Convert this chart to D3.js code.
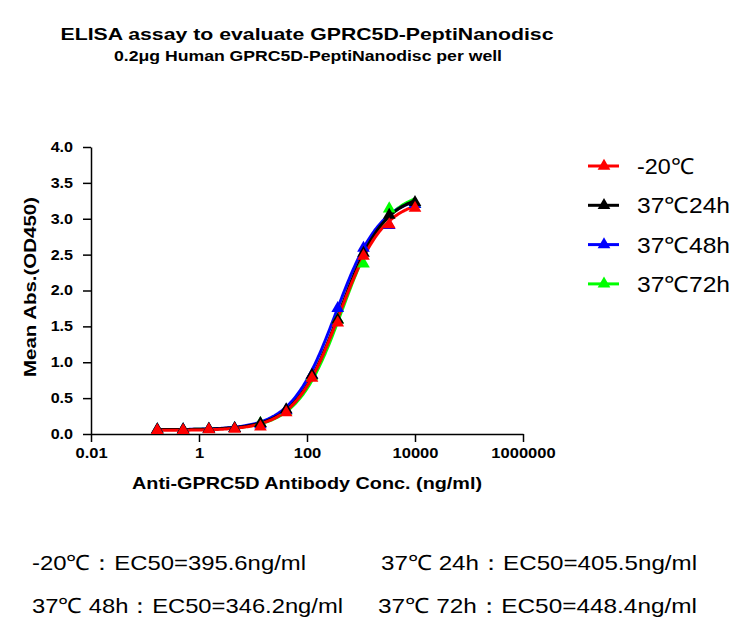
<!DOCTYPE html>
<html>
<head>
<meta charset="utf-8">
<script src="https://cdn.jsdelivr.net/npm/d3@7"></script>
<style>
  body { margin: 0; background: #fff; }
  text { font-family: "Liberation Sans", Arial, sans-serif; }
</style>
</head>
<body>
<svg id="chart" width="752" height="631"></svg>
<script>
// concentrations (ng/ml), 3-fold dilution from 10000
const conc = [0.169, 0.508, 1.524, 4.572, 13.72, 41.15, 123.5, 370.4, 1111, 3333, 10000];

const seriesNames = ['-20℃', '37℃24h', '37℃48h', '37℃72h'];
const seriesColors = ['#ff0000', '#000000', '#0000ff', '#00ff00'];

// mean OD450
const valsM20 = [0.05, 0.05, 0.06, 0.07, 0.10, 0.30, 0.78, 1.55, 2.48, 2.92, 3.15];
const vals24h = [0.06, 0.06, 0.07, 0.08, 0.15, 0.34, 0.82, 1.59, 2.52, 3.05, 3.23];
const vals48h = [0.06, 0.06, 0.07, 0.08, 0.13, 0.33, 0.82, 1.75, 2.59, 2.91, 3.20];
const vals72h = [0.06, 0.06, 0.07, 0.08, 0.15, 0.32, 0.80, 1.59, 2.37, 3.14, 3.20];

// 4PL fit parameters: bottom, top, EC50, hill
const fitBottom = [0.05, 0.06, 0.06, 0.06];
const fitTop = [3.28, 3.36, 3.33, 3.40];
const fitEC50 = [395.6, 405.5, 346.2, 448.4];
const fitHill = [1.05, 1.05, 1.05, 1.05];

const xTicks = [0.01, 1, 100, 10000, 1000000];
const yTicks = [0, 0.5, 1, 1.5, 2, 2.5, 3, 3.5, 4];

const ec50Labels = [
  '-20℃：EC50=395.6ng/ml',
  '37℃ 24h：EC50=405.5ng/ml',
  '37℃ 48h：EC50=346.2ng/ml',
  '37℃ 72h：EC50=448.4ng/ml'
];

const allVals = [valsM20, vals24h, vals48h, vals72h];

const svg = d3.select('#chart');

const x = d3.scaleLog().domain([0.01, 1000000]).range([91, 523]);
const y = d3.scaleLinear().domain([0, 4]).range([434, 147]);

// the reference text is a bit wider than plain Arial, stretch it
function fitWidth(sel, w) {
  sel.attr('lengthAdjust', 'spacingAndGlyphs').attr('textLength', w);
}
function stretch(sel, k) {
  sel.each(function() {
    this.setAttribute('lengthAdjust', 'spacingAndGlyphs');
    this.setAttribute('textLength', this.getComputedTextLength() * k);
  });
}

// titles
svg.append('text')
  .attr('x', 307).attr('y', 40)
  .attr('text-anchor', 'middle')
  .style('font-weight', 'bold').style('font-size', '17px')
  .text('ELISA assay to evaluate GPRC5D-PeptiNanodisc')
  .call(fitWidth, 493);

svg.append('text')
  .attr('x', 308).attr('y', 61)
  .attr('text-anchor', 'middle')
  .style('font-weight', 'bold').style('font-size', '14px')
  .text('0.2μg Human GPRC5D-PeptiNanodisc per well')
  .call(fitWidth, 388);

// axes
const xAxis = d3.axisBottom(x)
  .tickValues(xTicks)
  .tickSize(8)
  .tickSizeOuter(0)
  .tickFormat(d => String(d));

const yAxis = d3.axisLeft(y)
  .tickValues(yTicks)
  .tickSize(8)
  .tickSizeOuter(0)
  .tickFormat(d3.format('.1f'));

const xAxisG = svg.append('g')
  .attr('transform', 'translate(0,434)')
  .call(xAxis);

const yAxisG = svg.append('g')
  .attr('transform', 'translate(91,0)')
  .call(yAxis);

[xAxisG, yAxisG].forEach(g => {
  g.select('.domain').attr('stroke', '#000').attr('stroke-width', 1.5);
  g.selectAll('.tick line').attr('stroke', '#000').attr('stroke-width', 1.5);
  g.selectAll('.tick text')
    .attr('fill', '#000')
    .style('font-family', '"Liberation Sans", Arial, sans-serif')
    .style('font-weight', 'bold')
    .style('font-size', '14px');
});
yAxisG.selectAll('.tick text').attr('x', -18).call(stretch, 1.15);
xAxisG.selectAll('.tick text').attr('y', 14).call(stretch, 1.18);

// axis titles
svg.append('text')
  .attr('x', 307).attr('y', 489)
  .attr('text-anchor', 'middle')
  .style('font-weight', 'bold').style('font-size', '17px')
  .text('Anti-GPRC5D Antibody Conc. (ng/ml)')
  .call(fitWidth, 350);

svg.append('text')
  .attr('transform', 'translate(36,287) rotate(-90)')
  .attr('text-anchor', 'middle')
  .style('font-weight', 'bold').style('font-size', '17px')
  .text('Mean Abs.(OD450)')
  .call(fitWidth, 180);

// fitted curves
const curveX = d3.range(0, 201).map(i => {
  const lo = Math.log10(conc[0]), hi = Math.log10(conc[conc.length - 1]);
  return Math.pow(10, lo + (hi - lo) * i / 200);
});

const line = d3.line()
  .x(d => x(d[0]))
  .y(d => y(d[1]));

const tri = d3.symbol().type(d3.symbolTriangle).size(70);

const order = [3, 2, 1, 0];
order.forEach(i => {
  const fit = curveX.map(c => [c, fitBottom[i] + (fitTop[i] - fitBottom[i]) / (1 + Math.pow(fitEC50[i] / c, fitHill[i]))]);
  svg.append('path')
    .datum(fit)
    .attr('fill', 'none')
    .attr('stroke', seriesColors[i])
    .attr('stroke-width', 3)
    .attr('d', line);
});
order.forEach(i => {
  svg.append('g')
    .selectAll('path')
    .data(conc.map((c, j) => [c, allVals[i][j]]))
    .join('path')
    .attr('d', tri)
    .attr('transform', d => `translate(${x(d[0])},${y(d[1])})`)
    .attr('fill', seriesColors[i]);
});

// legend
const legendW = [57, 93, 93, 93];
const legend = svg.append('g');
seriesNames.forEach((name, i) => {
  const ly = 166 + i * 39.3;
  legend.append('line')
    .attr('x1', 588).attr('x2', 619)
    .attr('y1', ly).attr('y2', ly)
    .attr('stroke', seriesColors[i]).attr('stroke-width', 3);
  legend.append('path')
    .attr('d', tri)
    .attr('transform', `translate(604,${ly})`)
    .attr('fill', seriesColors[i]);
  legend.append('text')
    .attr('x', 637).attr('y', ly + 8)
    .style('font-size', '22px')
    .text(name)
    .call(fitWidth, legendW[i]);
});

// EC50 notes
const notePos = [[32, 570], [381, 570], [32, 613], [378, 613]];
const noteW = [274, 316, 311, 319];
ec50Labels.forEach((t, i) => {
  svg.append('text')
    .attr('x', notePos[i][0]).attr('y', notePos[i][1])
    .style('font-size', '21px')
    .text(t)
    .call(fitWidth, noteW[i]);
});
</script>
</body>
</html>
